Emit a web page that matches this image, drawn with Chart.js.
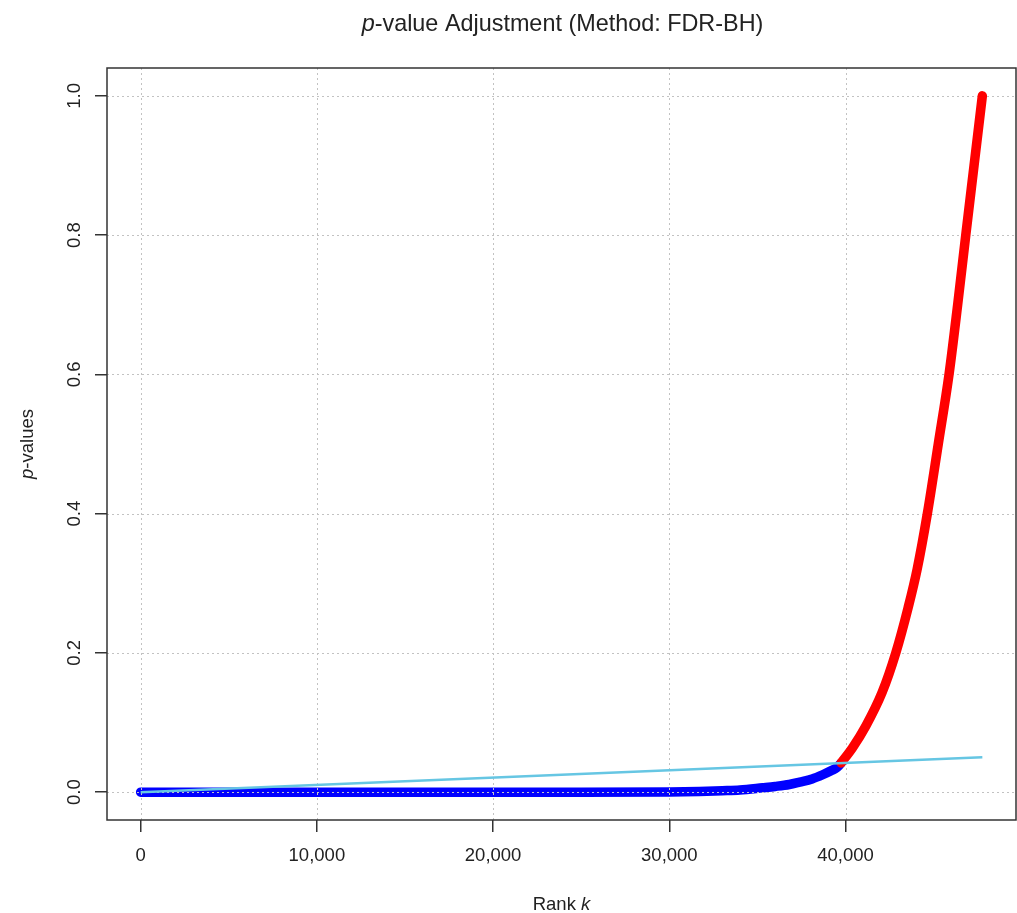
<!DOCTYPE html>
<html><head><meta charset="utf-8">
<script src="https://cdn.jsdelivr.net/npm/chart.js@4.4.0/dist/chart.umd.min.js"></script>
<style>html,body{margin:0;padding:0;background:#fff;overflow:hidden}#wrap{width:1017px;height:913px}</style>
</head><body><div id="wrap"><canvas id="c" width="1017" height="913"></canvas></div>
<script>
// ---- text ----
const titleItalic = 'p';
const titleRest = '-value Adjustment (Method: FDR-BH)';
const xTitleRest = 'Rank ';
const xTitleItalic = 'k';
const yTitleItalic = 'p';
const yTitleRest = '-values';

// ---- ticks ----
const xTicks = [0, 10000, 20000, 30000, 40000];
const yTicks = [0, 0.2, 0.4, 0.6, 0.8, 1.0];
const yTickLabels = ['0.0', '0.2', '0.4', '0.6', '0.8', '1.0'];
const xRange = [-1909, 49670];
const yRange = [-0.04, 1.04];

// ---- data: sorted p-values, rejected (blue) ----
const blueRank = [1, 5000, 10000, 15000, 20000, 25000, 30000, 31700, 33000, 34000, 35300, 36000, 36800, 37400, 38100, 38700, 39200, 39500, 39750];
const bluePval = [0, 0, 0, 0, 0, 0, 0.0003, 0.001, 0.002, 0.003, 0.0063, 0.0082, 0.011, 0.0145, 0.019, 0.025, 0.031, 0.0352, 0.042];
// ---- data: sorted p-values, not rejected (red) ----
const redRank = [39750, 40400, 41150, 42070, 42850, 43550, 44060, 44640, 45260, 45870, 46360, 46820, 47290, 47760];
const redPval = [0.042, 0.064, 0.095, 0.143, 0.2, 0.265, 0.32, 0.4, 0.5, 0.6, 0.7, 0.8, 0.9, 1.0];
// ---- BH threshold line ----
const bhRank = [1, 47760];
const bhPval = [0.0, 0.05];

const FONT = '"Liberation Sans", Arial, sans-serif';
const TEXT = '#222';

const pts = (xs, ys) => xs.map((v, i) => ({x: v, y: ys[i]}));

const overlay = {
  id: 'overlay',
  afterDatasetDraw(chart, args) {
    if (args.index !== 0) return; // grid drawn over the blue points, as in the original
    const {ctx, chartArea: a, scales: {x, y}} = chart;
    ctx.save();
    ctx.beginPath(); ctx.rect(a.left, a.top, a.right - a.left, a.bottom - a.top); ctx.clip();
    ctx.strokeStyle = '#c2c2c2'; ctx.lineWidth = 1; ctx.setLineDash([2, 3]);
    xTicks.forEach(v => {
      const px = Math.round(x.getPixelForValue(v)) + 0.5;
      ctx.beginPath(); ctx.moveTo(px, a.top); ctx.lineTo(px, a.bottom); ctx.stroke();
    });
    yTicks.forEach(v => {
      const py = Math.round(y.getPixelForValue(v)) + 0.5;
      ctx.beginPath(); ctx.moveTo(a.left, py); ctx.lineTo(a.right, py); ctx.stroke();
    });
    ctx.restore();
  },
  afterDraw(chart) {
    const {ctx, chartArea: a, scales: {y}} = chart;
    ctx.save();
    // box
    ctx.strokeStyle = '#333'; ctx.lineWidth = 1.5;
    ctx.strokeRect(a.left, a.top, a.right - a.left, a.bottom - a.top);
    ctx.fillStyle = TEXT;
    const cx = (a.left + a.right) / 2;
    const cy = (a.top + a.bottom) / 2;
    const mixed = (italic, rest, size) => {
      const fi = 'italic ' + size + 'px ' + FONT, fn = size + 'px ' + FONT;
      ctx.font = fi; const wi = ctx.measureText(italic).width;
      ctx.font = fn; const wn = ctx.measureText(rest).width;
      return {fi, fn, wi, wn, total: wi + wn};
    };
    ctx.textBaseline = 'alphabetic'; ctx.textAlign = 'left';
    // title
    let m = mixed(titleItalic, titleRest, 23.4);
    let sx = cx - m.total / 2 + 1;
    ctx.font = m.fi; ctx.fillText(titleItalic, sx, 31);
    ctx.font = m.fn; ctx.fillText(titleRest, sx + m.wi, 31);
    // x title
    m = mixed(xTitleItalic, xTitleRest, 18.5);
    sx = cx - m.total / 2;
    ctx.font = m.fn; ctx.fillText(xTitleRest, sx, 910);
    ctx.font = m.fi; ctx.fillText(xTitleItalic, sx + m.wn, 910);
    // y title
    ctx.save();
    ctx.translate(33, cy); ctx.rotate(-Math.PI / 2);
    m = mixed(yTitleItalic, yTitleRest, 18.5);
    sx = -m.total / 2;
    ctx.font = m.fi; ctx.fillText(yTitleItalic, sx, 0);
    ctx.font = m.fn; ctx.fillText(yTitleRest, sx + m.wi, 0);
    ctx.restore();
    // y tick labels (rotated, as in R)
    ctx.font = '18.5px ' + FONT; ctx.textAlign = 'center';
    yTicks.forEach((v, i) => {
      ctx.save();
      ctx.translate(80, y.getPixelForValue(v)); ctx.rotate(-Math.PI / 2);
      ctx.fillText(yTickLabels[i], 0, 0);
      ctx.restore();
    });
    ctx.restore();
  }
};

const gridOpts = {drawOnChartArea: false, drawTicks: true, tickLength: 12, tickColor: '#333', tickWidth: 1.5, color: '#333', lineWidth: 1.5};
const band = {borderWidth: 9.5, pointRadius: 0, borderCapStyle: 'round', borderJoinStyle: 'round', cubicInterpolationMode: 'monotone'};

new Chart(document.getElementById('c'), {
  type: 'line',
  data: {
    datasets: [
      Object.assign({data: pts(blueRank, bluePval), borderColor: '#0000ff', backgroundColor: '#0000ff', order: 3}, band),
      Object.assign({data: pts(redRank, redPval), borderColor: '#ff0000', backgroundColor: '#ff0000', order: 2}, band),
      {data: pts(bhRank, bhPval), borderColor: '#66c6e3', backgroundColor: '#66c6e3', borderWidth: 2.5, pointRadius: 0, tension: 0, order: 1}
    ]
  },
  options: {
    responsive: false,
    animation: false,
    devicePixelRatio: 1,
    layout: {padding: {top: 68, right: 1, left: 0, bottom: 0}},
    plugins: {legend: {display: false}, tooltip: {enabled: false}, title: {display: false}},
    scales: {
      x: {
        type: 'linear', min: xRange[0], max: xRange[1],
        afterBuildTicks: s => { s.ticks = xTicks.map(v => ({value: v})); },
        afterFit: s => { s.height = 93; },
        grid: gridOpts, border: {display: false},
        ticks: {padding: 13, color: TEXT, font: {family: FONT, size: 18.5}, maxRotation: 0, minRotation: 0, autoSkip: false,
          callback: v => Number(v).toLocaleString('en-US')}
      },
      y: {
        type: 'linear', min: yRange[0], max: yRange[1],
        afterBuildTicks: s => { s.ticks = yTicks.map(v => ({value: v})); },
        afterFit: s => { s.width = 107; },
        grid: gridOpts, border: {display: false},
        ticks: {display: false}
      }
    }
  },
  plugins: [overlay]
});
</script>
</body></html>
